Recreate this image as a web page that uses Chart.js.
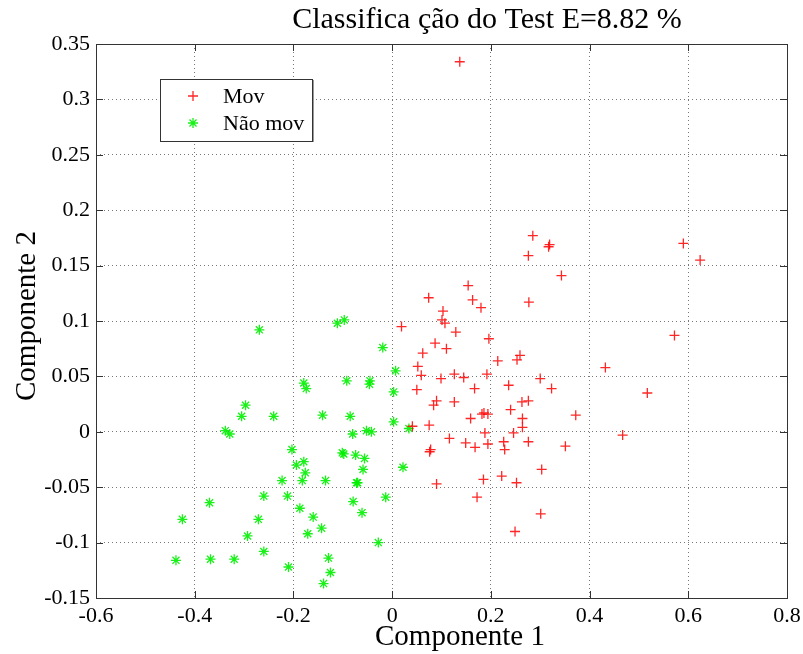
<!DOCTYPE html>
<html>
<head>
<meta charset="utf-8">
<title>Classificação do Test</title>
<script src="https://cdn.jsdelivr.net/npm/chart.js@4/dist/chart.umd.min.js"></script>
<style>
  html, body { margin: 0; padding: 0; background: #fff; }
  canvas { display: block; }
</style>
</head>
<body>
<canvas id="grafico" width="803" height="654"></canvas>
<script>
// Projeção nas duas primeiras componentes (conjunto de teste)
const movX = [0.137, 0.285, 0.319, 0.317, 0.276, 0.590, 0.624, 0.343, 0.154, 0.074,
  0.163, 0.277, 0.180, 0.103, 0.101, 0.107, 0.129, 0.019, 0.572, 0.196,
  0.087, 0.110, 0.062, 0.052, 0.059, 0.099, 0.126, 0.145, 0.192, 0.214,
  0.259, 0.253, 0.432, 0.300, 0.323, 0.236, 0.167, 0.050, 0.517, 0.090,
  0.084, 0.126, 0.263, 0.276, 0.240, 0.186, 0.194, 0.182, 0.372, 0.159,
  0.264, 0.075, 0.041, 0.264, 0.188, 0.246, 0.467, 0.116, 0.149, 0.194,
  0.226, 0.276, 0.168, 0.228, 0.351, 0.076, 0.078, 0.303, 0.222, 0.185,
  0.252, 0.090, 0.172, 0.301, 0.249];
const movY = [0.334, 0.177, 0.169, 0.167, 0.159, 0.170, 0.155, 0.141, 0.132, 0.121,
  0.119, 0.117, 0.112, 0.109, 0.101, 0.098, 0.090, 0.095, 0.087, 0.084,
  0.080, 0.075, 0.071, 0.059, 0.051, 0.048, 0.052, 0.049, 0.052, 0.064,
  0.069, 0.065, 0.058, 0.048, 0.039, 0.042, 0.039, 0.038, 0.035, 0.028,
  0.024, 0.027, 0.027, 0.028, 0.020, 0.017, 0.016, 0.016, 0.015, 0.012,
  0.012, 0.006, 0.005, 0.004, -0.001, -0.001, -0.003, -0.006, -0.010, -0.011,
  -0.009, -0.009, -0.014, -0.016, -0.013, -0.018, -0.016, -0.034, -0.040, -0.043,
  -0.046, -0.047, -0.059, -0.074, -0.090];

const naoMovX = [-0.269, -0.111, -0.097, -0.019, -0.179, -0.174, -0.092, -0.045, -0.046, -0.297,
  -0.305, -0.240, -0.141, -0.085, -0.338, -0.329, -0.080, -0.052, -0.042, -0.203,
  -0.101, -0.098, -0.074, -0.056, -0.179, -0.194, -0.176, -0.059, 0.022, -0.223,
  -0.182, -0.135, -0.072, -0.070, -0.260, -0.212, -0.370, -0.079, -0.013, -0.187,
  -0.061, -0.425, -0.271, -0.160, -0.143, -0.293, -0.171, -0.028, -0.260, -0.438,
  -0.368, -0.320, -0.129, -0.210, -0.125, -0.139, 0.007, 0.003, 0.003, 0.034];
const naoMovY = [0.092, 0.098, 0.101, 0.076, 0.044, 0.039, 0.046, 0.046, 0.043, 0.024,
  0.014, 0.014, 0.015, 0.014, 0.001, -0.002, -0.002, 0.001, 0.000, -0.016,
  -0.019, -0.020, -0.021, -0.024, -0.027, -0.030, -0.037, -0.034, -0.032, -0.044,
  -0.044, -0.044, -0.046, -0.046, -0.058, -0.058, -0.064, -0.063, -0.059, -0.069,
  -0.073, -0.079, -0.079, -0.077, -0.087, -0.094, -0.092, -0.100, -0.108, -0.116,
  -0.115, -0.115, -0.114, -0.122, -0.127, -0.137, 0.055, 0.036, 0.009, 0.003];

const xTicks = [-0.6, -0.4, -0.2, 0, 0.2, 0.4, 0.6, 0.8];
const yTicks = [-0.15, -0.1, -0.05, 0, 0.05, 0.1, 0.15, 0.2, 0.25, 0.3, 0.35];

const titulo = 'Classifica ção do Test E=8.82 %';
const rotuloX = 'Componente 1';
const rotuloY = 'Componente 2';
const serif = '"Liberation Serif", "DejaVu Serif", serif';

const pares = (xs, ys) => xs.map((x, i) => ({ x: x, y: ys[i] }));

// moldura, marcas internas, títulos e legenda no estilo do MATLAB
const molduraPlugin = {
  id: 'moldura',
  afterDraw(chart) {
    const ctx = chart.ctx;
    const a = chart.chartArea;
    const sx = chart.scales.x, sy = chart.scales.y;
    ctx.save();

    ctx.strokeStyle = '#333';
    ctx.lineWidth = 1;
    ctx.strokeRect(Math.round(a.left) + 0.5, Math.round(a.top) + 0.5,
      Math.round(a.right - a.left), Math.round(a.bottom - a.top));

    // marcas para dentro nos quatro lados
    const tl = 7;
    ctx.beginPath();
    xTicks.forEach(v => {
      const px = Math.round(sx.getPixelForValue(v)) + 0.5;
      ctx.moveTo(px, a.bottom); ctx.lineTo(px, a.bottom - tl);
      ctx.moveTo(px, a.top); ctx.lineTo(px, a.top + tl);
    });
    yTicks.forEach(v => {
      const py = Math.round(sy.getPixelForValue(v)) + 0.5;
      ctx.moveTo(a.left, py); ctx.lineTo(a.left + tl, py);
      ctx.moveTo(a.right, py); ctx.lineTo(a.right - tl, py);
    });
    ctx.stroke();

    // títulos
    ctx.fillStyle = '#000';
    ctx.textAlign = 'center';
    ctx.textBaseline = 'alphabetic';
    ctx.font = '30px ' + serif;
    ctx.fillText(titulo, 487, 28);
    ctx.font = '29px ' + serif;
    ctx.fillText(rotuloX, 460, 645);
    ctx.save();
    ctx.translate(35, 316);
    ctx.rotate(-Math.PI / 2);
    ctx.fillText(rotuloY, 0, 0);
    ctx.restore();

    // legenda
    const lx = 160, ly = 79, lw = 152, lh = 62;
    ctx.fillStyle = '#fff';
    ctx.fillRect(lx, ly, lw, lh);
    ctx.strokeStyle = '#999';
    ctx.lineWidth = 2;
    ctx.beginPath();
    ctx.moveTo(lx + lw + 1, ly + 1); ctx.lineTo(lx + lw + 1, ly + lh + 1);
    ctx.stroke();
    ctx.strokeStyle = '#333';
    ctx.lineWidth = 1;
    ctx.strokeRect(lx + 0.5, ly + 0.5, lw, lh);

    ctx.font = '22px ' + serif;
    ctx.textAlign = 'left';
    ctx.textBaseline = 'middle';
    chart.data.datasets.forEach((ds, i) => {
      const y = 96 + i * 27;
      ctx.strokeStyle = ds.borderColor;
      ctx.lineWidth = ds.borderWidth;
      Chart.helpers.drawPoint(ctx, { pointStyle: ds.pointStyle, radius: ds.pointRadius, borderWidth: ds.borderWidth }, 193, y);
      ctx.fillStyle = '#000';
      ctx.fillText(ds.label, 223, y + 1);
    });
    ctx.restore();
  }
};

new Chart(document.getElementById('grafico'), {
  type: 'scatter',
  data: {
    datasets: [
      {
        label: 'Mov',
        data: pares(movX, movY),
        pointStyle: 'cross',
        pointRadius: 5,
        borderWidth: 1.3,
        borderColor: 'rgba(255, 0, 0, 0.85)',
        backgroundColor: 'rgba(255, 0, 0, 0.85)'
      },
      {
        label: 'Não mov',
        data: pares(naoMovX, naoMovY),
        pointStyle: 'star',
        pointRadius: 5,
        borderWidth: 1.3,
        borderColor: 'rgba(0, 240, 0, 0.9)',
        backgroundColor: 'rgba(0, 240, 0, 0.9)'
      }
    ]
  },
  plugins: [molduraPlugin],
  options: {
    responsive: false,
    devicePixelRatio: 1,
    animation: false,
    layout: { padding: { left: 0, right: 16, top: 44, bottom: 0 } },
    plugins: {
      legend: { display: false },
      title: { display: false },
      tooltip: { enabled: false }
    },
    scales: {
      x: {
        type: 'linear',
        min: -0.6,
        max: 0.8,
        afterFit: s => { s.height = 56; s.paddingLeft = 0; s.paddingRight = 0; },
        afterBuildTicks: s => { s.ticks = xTicks.map(v => ({ value: v })); },
        grid: {
          color: '#777',
          lineWidth: 1,
          drawTicks: false
        },
        border: { display: false, dash: [1, 3] },
        ticks: {
          padding: 5,
          color: '#000',
          font: { family: serif, size: 22 },
          maxRotation: 0,
          callback: v => String(Number(v.toFixed(2)))
        }
      },
      y: {
        type: 'linear',
        min: -0.15,
        max: 0.35,
        afterFit: s => { s.width = 96; s.paddingTop = 0; s.paddingBottom = 0; },
        afterBuildTicks: s => { s.ticks = yTicks.map(v => ({ value: v })); },
        grid: {
          color: '#777',
          lineWidth: 1,
          drawTicks: false
        },
        border: { display: false, dash: [1, 3] },
        ticks: {
          padding: 6,
          color: '#000',
          font: { family: serif, size: 22 },
          callback: v => String(Number(v.toFixed(2)))
        }
      }
    }
  }
});
</script>
</body>
</html>
